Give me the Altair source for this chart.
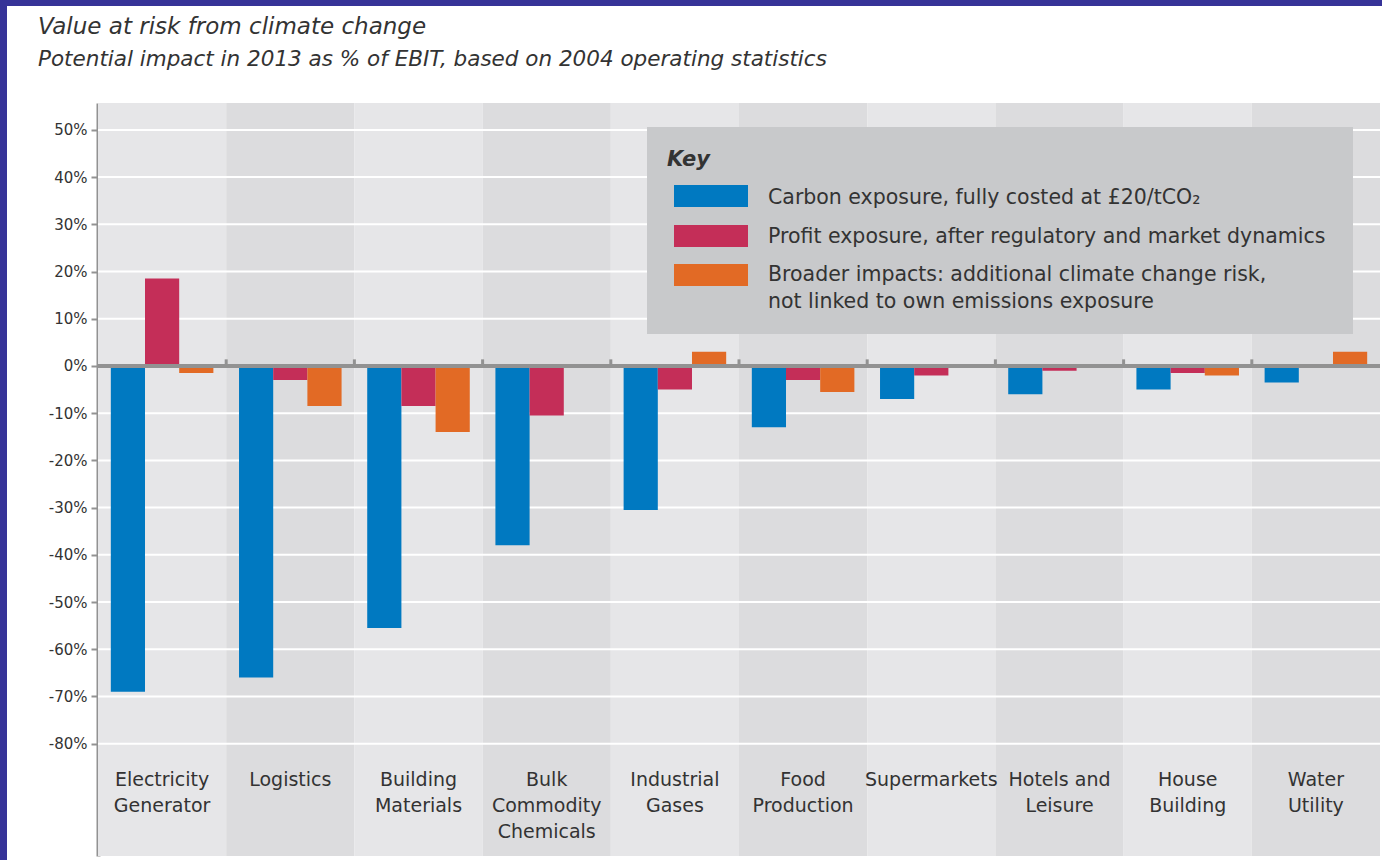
import altair as alt
import pandas as pd

# Sectors and the three exposure measures (% of EBIT)
categories = [
    "Electricity\nGenerator", "Logistics", "Building\nMaterials",
    "Bulk\nCommodity\nChemicals", "Industrial\nGases", "Food\nProduction",
    "Supermarkets", "Hotels and\nLeisure", "House\nBuilding", "Water\nUtility",
]
series = [
    "Carbon exposure, fully costed at £20/tCO₂",
    "Profit exposure, after regulatory and market dynamics",
    "Broader impacts: additional climate change risk,\nnot linked to own emissions exposure",
]
carbon = [-69, -66, -55.5, -38, -30.5, -13, -7, -6, -5, -3.5]
profit = [18.5, -3, -8.5, -10.5, -5, -3, -2, -1, -1.5, 0]
broader = [-1.5, -8.5, -14, 0, 3, -5.5, 0, 0, -2, 3]
colors = ["#0079c1", "#c42e58", "#e26a25"]
y_ticks = [50, 40, 30, 20, 10, 0, -10, -20, -30, -40, -50, -60, -70, -80]

title = "Value at risk from climate change"
subtitle = "Potential impact in 2013 as % of EBIT, based on 2004 operating statistics"

W, H = 1282, 753
PAD_L, PAD_T = 98, 103
FONT = "DejaVu Sans"
TEXT = "#333333"
AXIS_GREY = "#929292"

rows = []
for s, vals in zip(series, [carbon, profit, broader]):
    for c, v in zip(categories, vals):
        rows.append({"category": c, "series": s, "value": v})
bars_df = pd.DataFrame(rows)

bands_df = pd.DataFrame({
    "category": categories,
    "shade": ["#e6e6e8" if i % 2 == 0 else "#dcdcde" for i in range(len(categories))],
})
grid_df = pd.DataFrame({"v": [t for t in y_ticks if t != 0]})
ticks_df = pd.DataFrame({"category": categories[1:]})
one = pd.DataFrame({"k": [0]})

x_scale = alt.Scale(domain=categories, paddingInner=0, paddingOuter=0)
y_scale = alt.Scale(domain=[-103.8, 55.7], nice=False, zero=False)
x_enc = alt.X("category:N", scale=x_scale, axis=None, sort=categories)

bands = alt.Chart(bands_df).mark_rect().encode(
    x=x_enc,
    y=alt.value(0), y2=alt.value(H),
    color=alt.Color("shade:N", scale=None),
)

grid = alt.Chart(grid_df).mark_rule(color="white", strokeWidth=2).encode(
    y=alt.Y("v:Q", scale=y_scale)
)

bars = alt.Chart(bars_df).mark_bar(cornerRadius=0).encode(
    x=x_enc,
    xOffset=alt.XOffset("series:N", sort=series,
                        scale=alt.Scale(paddingInner=0, paddingOuter=0.375)),
    y=alt.Y("value:Q", scale=y_scale,
            axis=alt.Axis(values=y_ticks, labelExpr="datum.value + '%'",
                          grid=False, title=None, domain=True,
                          domainColor=AXIS_GREY, domainWidth=4,
                          tickColor=AXIS_GREY, tickSize=7, tickWidth=2,
                          labelFont=FONT, labelFontSize=15, labelColor=TEXT,
                          labelPadding=4)),
    y2=alt.datum(0),
    color=alt.Color("series:N", sort=series,
                    scale=alt.Scale(domain=series, range=colors), legend=None),
)

zero_line = alt.Chart(one).mark_rule(color=AXIS_GREY, strokeWidth=4).encode(
    y=alt.datum(0, scale=y_scale)
)

step = W / len(categories)
zero_ticks = alt.Chart(ticks_df).mark_rule(
    color=AXIS_GREY, strokeWidth=3, xOffset=-step / 2
).encode(
    x=x_enc,
    y=alt.datum(0, scale=y_scale), y2=alt.datum(1.4),
)

labels = alt.Chart(bands_df).mark_text(
    font=FONT, fontSize=19, color=TEXT, baseline="top", lineBreak="\n",
    lineHeight=26, align="center",
).encode(
    x=x_enc,
    y=alt.datum(-85.7, scale=y_scale),
    text="category:N",
)

# Key box in the upper right of the plot
key_layers = [
    alt.Chart(one).mark_rect(color="#c8c9cb").encode(
        x=alt.value(549), x2=alt.value(1255), y=alt.value(24), y2=alt.value(231)
    ),
    alt.Chart(one).mark_text(
        text="Key", font=FONT, fontSize=21, fontStyle="italic", fontWeight="bold",
        color=TEXT, align="left", baseline="middle",
    ).encode(x=alt.value(569), y=alt.value(57)),
]
sw_top = [82, 122, 161]
txt_y = [95, 134, 172]
for i, s in enumerate(series):
    key_layers.append(
        alt.Chart(one).mark_rect(color=colors[i]).encode(
            x=alt.value(576), x2=alt.value(650),
            y=alt.value(sw_top[i]), y2=alt.value(sw_top[i] + 22),
        )
    )
    key_layers.append(
        alt.Chart(one).mark_text(
            text=s.split("\n"), font=FONT, fontSize=20.5, color=TEXT,
            align="left", baseline="middle", lineHeight=27,
        ).encode(x=alt.value(670), y=alt.value(txt_y[i]))
    )

# Title lines above the plot
titles = [
    alt.Chart(one).mark_text(
        text=title, font=FONT, fontSize=23, fontStyle="italic", color=TEXT,
        align="left", baseline="alphabetic", clip=False,
    ).encode(x=alt.value(-60), y=alt.value(-69)),
    alt.Chart(one).mark_text(
        text=subtitle, font=FONT, fontSize=21.5, fontStyle="italic", color=TEXT,
        align="left", baseline="alphabetic", clip=False,
    ).encode(x=alt.value(-60), y=alt.value(-37)),
]

# Frame strips along the top and left edges
frame = [
    alt.Chart(one).mark_rect(color="#363398", clip=False).encode(
        x=alt.value(-PAD_L), x2=alt.value(W + 10),
        y=alt.value(-PAD_T), y2=alt.value(-PAD_T + 6),
    ),
    alt.Chart(one).mark_rect(color="#363398", clip=False).encode(
        x=alt.value(-PAD_L), x2=alt.value(-PAD_L + 7),
        y=alt.value(-PAD_T), y2=alt.value(H + 10),
    ),
]

chart = alt.layer(
    bands, grid, bars, zero_line, zero_ticks, labels, *key_layers, *titles, *frame
).properties(
    width=W, height=H,
    autosize=alt.AutoSizeParams(type="none"),
    padding={"left": PAD_L, "top": PAD_T, "right": 2, "bottom": 4},
    background="white",
).configure_view(stroke=None)

chart.save("out.html", embed_options={"renderer": "svg", "actions": False})
